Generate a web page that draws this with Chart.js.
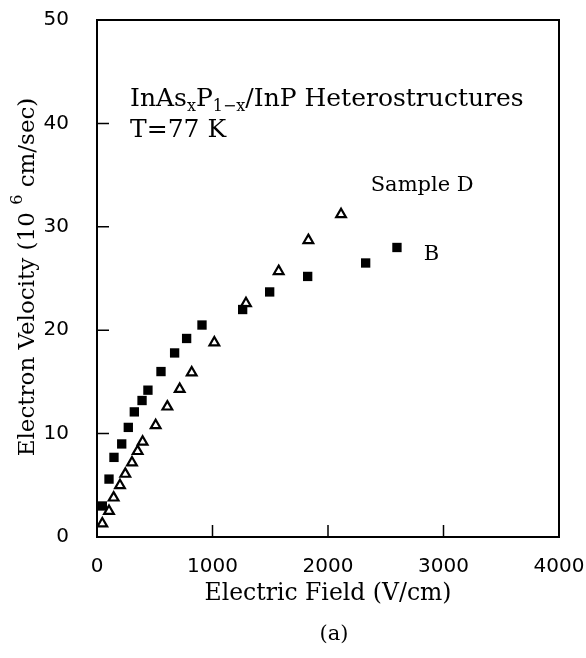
<!DOCTYPE html>
<html>
<head>
<meta charset="utf-8">
<script src="https://cdn.jsdelivr.net/npm/chart.js@4.4.1/dist/chart.umd.min.js"></script>
<style>
  html, body { margin: 0; padding: 0; background: #fff; }
  #wrap { width: 586px; height: 658px; }
</style>
</head>
<body>
<div id="wrap"><canvas id="velocity"></canvas></div>
<script>
/** ELECTRON VELOCITY VS FIELD, InAsP/InP **/

// sample B (filled squares)
var fieldB = [46, 104, 147, 214, 271, 323, 390, 441, 554, 672, 776, 909, 1261, 1495, 1824, 2326, 2597];
var velB   = [3.0, 5.6, 7.7, 9.0, 10.6, 12.1, 13.2, 14.2, 16.0, 17.8, 19.2, 20.5, 22.0, 23.7, 25.2, 26.5, 28.0];

// sample D (open triangles)
var fieldD = [46, 104, 144, 199, 245, 303, 352, 395, 508, 609, 716, 820, 1016, 1290, 1573, 1830, 2113];
var velD   = [1.3, 2.5, 3.8, 5.0, 6.1, 7.2, 8.3, 9.2, 10.8, 12.6, 14.3, 15.9, 18.8, 22.6, 25.7, 28.7, 31.2];

var xTicks = [0, 1000, 2000, 3000, 4000];
var yTicks = [0, 10, 20, 30, 40, 50];

var serif = '"DejaVu Serif", serif';

function pts(xs, ys) {
    return xs.map(function (x, i) { return { x: x, y: ys[i] }; });
}

// frame, inward ticks and the texts
var frame = {
    id: 'frame',
    afterDraw: function (chart) {
        var ctx = chart.ctx;
        var a = chart.chartArea;
        var xs = chart.scales.x, ys = chart.scales.y;
        ctx.save();
        ctx.strokeStyle = '#000';
        ctx.lineWidth = 2;
        ctx.strokeRect(a.left, a.top, a.right - a.left, a.bottom - a.top);

        // major ticks pointing in
        ctx.lineWidth = 1.5;
        ctx.beginPath();
        yTicks.slice(1, -1).forEach(function (v) {
            var p = ys.getPixelForValue(v);
            ctx.moveTo(a.left, p); ctx.lineTo(a.left + 12, p);
        });
        xTicks.slice(1, -1).forEach(function (v) {
            var p = xs.getPixelForValue(v);
            ctx.moveTo(p, a.bottom); ctx.lineTo(p, a.bottom - 12);
        });
        ctx.stroke();

        ctx.fillStyle = '#000';
        ctx.textBaseline = 'alphabetic';

        // heading with subscripts
        var x = xs.getPixelForValue(286), y = ys.getPixelForValue(41.7);
        var parts = [['InAs', 0], ['x', 1], ['P', 0], ['1\u2212x', 1], ['/InP Heterostructures', 0]];
        parts.forEach(function (p) {
            ctx.font = (p[1] ? '16px ' : '25px ') + serif;
            ctx.fillText(p[0], x, y + (p[1] ? 5 : 0));
            x += ctx.measureText(p[0]).width;
        });
        ctx.font = '25px ' + serif;
        ctx.fillText('T=77 K', xs.getPixelForValue(286), ys.getPixelForValue(38.7));
        ctx.font = '21px ' + serif;
        ctx.fillText('Sample D', xs.getPixelForValue(2370), ys.getPixelForValue(33.5));
        ctx.fillText('B', xs.getPixelForValue(2830), ys.getPixelForValue(26.8));

        // x title and panel letter
        ctx.font = '23.5px ' + serif;
        ctx.textAlign = 'center';
        ctx.fillText('Electric Field (V/cm)', (a.left + a.right) / 2, 600);
        ctx.font = '21px ' + serif;
        ctx.fillText('(a)', (a.left + a.right) / 2 + 6, 640);

        // y title, rotated, with superscript
        ctx.translate(34, 277);
        ctx.rotate(-Math.PI / 2);
        ctx.textAlign = 'left';
        var t1 = 'Electron Velocity (10 ', t2 = '6', t3 = ' cm/sec)';
        ctx.font = '23px ' + serif;
        var w1 = ctx.measureText(t1).width, w3 = ctx.measureText(t3).width;
        ctx.font = '16px ' + serif;
        var w2 = ctx.measureText(t2).width;
        var sx = -(w1 + w2 + w3) / 2;
        ctx.font = '23px ' + serif;
        ctx.fillText(t1, sx, 0);
        ctx.font = '16px ' + serif;
        ctx.fillText(t2, sx + w1, -12);
        ctx.font = '23px ' + serif;
        ctx.fillText(t3, sx + w1 + w2, 0);
        ctx.restore();
    }
};

var velocity = new Chart(document.getElementById('velocity'), {
    type: 'scatter',
    data: {
        datasets: [{
            label: 'B',
            data: pts(fieldB, velB),
            pointStyle: 'rect',
            pointRadius: 6.6,
            backgroundColor: '#000',
            borderColor: '#000',
            borderWidth: 0
        }, {
            label: 'Sample D',
            data: pts(fieldD, velD),
            pointStyle: 'triangle',
            pointRadius: 5.6,
            backgroundColor: '#fff',
            borderColor: '#000',
            borderWidth: 2.2
        }]
    },
    options: {
        responsive: true,
        maintainAspectRatio: false,
        animation: false,
        layout: { padding: { top: 20, right: 27, bottom: 0, left: 0 } },
        plugins: { legend: false, tooltip: { enabled: false } },
        scales: {
            x: {
                min: 0, max: 4000,
                afterBuildTicks: function (s) { s.ticks = xTicks.map(function (v) { return { value: v }; }); },
                afterFit: function (s) { s.height = 121; s.paddingLeft = 0; s.paddingRight = 0; },
                grid: { display: false },
                border: { display: false },
                ticks: {
                    color: '#000', padding: 10, maxRotation: 0,
                    font: { family: '"DejaVu Sans"', size: 20 },
                    callback: function (v) { return String(v); }
                }
            },
            y: {
                min: 0, max: 50,
                afterBuildTicks: function (s) { s.ticks = yTicks.map(function (v) { return { value: v }; }); },
                afterFit: function (s) { s.width = 97; s.paddingTop = 0; s.paddingBottom = 0; },
                grid: { display: false },
                border: { display: false },
                ticks: { color: '#000', padding: 20, font: { family: '"DejaVu Sans"', size: 20 } }
            }
        }
    },
    plugins: [frame]
});
</script>
</body>
</html>
